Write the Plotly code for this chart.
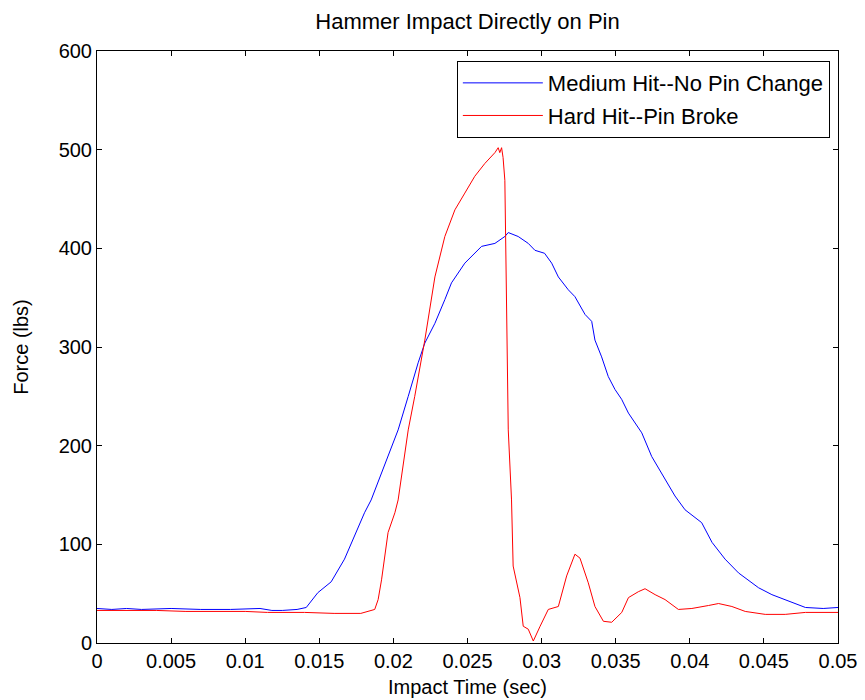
import plotly.graph_objects as go

# Medium hit -- no pin change (blue)
t_medium = [0.0, 0.0010, 0.0020, 0.0030, 0.0050, 0.0070, 0.0090, 0.0110, 0.0118, 0.0125, 0.0135,
            0.01412, 0.0149, 0.0158, 0.0167, 0.01736, 0.01805, 0.0185, 0.02032, 0.0210, 0.02167,
            0.02212, 0.0228, 0.02347, 0.02392, 0.02482, 0.02595, 0.02685, 0.02752, 0.02775, 0.02842,
            0.0291, 0.02955, 0.0302, 0.03068, 0.03113, 0.0318, 0.03225, 0.03293, 0.03338, 0.0336,
            0.03405, 0.0345, 0.03495, 0.0354, 0.03586, 0.03676, 0.03743, 0.03811, 0.0390, 0.03968,
            0.0408, 0.0415, 0.04238, 0.04329, 0.04464, 0.04554, 0.04644, 0.0478, 0.0490, 0.0500]
f_medium = [35, 34, 35, 34, 35, 34, 34, 35, 33, 33, 34,
            36, 51, 62, 85, 108, 132, 145, 216, 250, 284,
            304, 324, 348, 365, 385, 402, 405, 412, 416, 412,
            405, 398, 395, 385, 371, 358, 351, 333, 326, 307,
            290, 270, 257, 247, 233, 213, 189, 172, 149, 135,
            122, 102, 85, 71, 56, 49, 44, 36, 35, 36]

# Hard hit -- pin broke (red)
t_hard = [0.0, 0.0020, 0.0040, 0.0060, 0.0080, 0.0100, 0.0115, 0.0140, 0.0160, 0.0178, 0.01874,
          0.01897, 0.0192, 0.01964, 0.0201, 0.02032, 0.0210, 0.02144, 0.02212, 0.0228, 0.02347,
          0.02415, 0.02482, 0.02549, 0.02617, 0.02685, 0.02707, 0.02718, 0.0273, 0.0274, 0.02752,
          0.02775, 0.02797, 0.02808, 0.02854, 0.02876, 0.0291, 0.02944, 0.0299, 0.03045, 0.03113,
          0.03169, 0.03225, 0.03259, 0.03315, 0.0336, 0.03417, 0.03473, 0.03541, 0.03586, 0.03653,
          0.03698, 0.03766, 0.03833, 0.03923, 0.04014, 0.04126, 0.04194, 0.04284, 0.04374, 0.04509,
          0.04644, 0.0478, 0.0500]
f_hard = [33, 33, 33, 32, 32, 32, 31, 31, 30, 30, 34,
          44, 64, 112, 132, 145, 216, 250, 307, 371, 412,
          439, 456, 473, 486, 497, 502, 497, 502, 492, 469,
          216, 145, 78, 46, 17, 14, 2, 17, 34, 37,
          68, 90, 86, 61, 37, 22, 21, 31, 46, 52,
          55, 49, 44, 34, 35, 38, 40, 37, 32, 29,
          29, 31, 31]

x_ticks = [0, 0.005, 0.01, 0.015, 0.02, 0.025, 0.03, 0.035, 0.04, 0.045, 0.05]
x_tick_text = ["0", "0.005", "0.01", "0.015", "0.02", "0.025", "0.03", "0.035", "0.04", "0.045", "0.05"]
y_ticks = [0, 100, 200, 300, 400, 500, 600]

fig = go.Figure()
fig.add_trace(go.Scatter(x=t_medium, y=f_medium, mode="lines",
                         line=dict(color="#0000ff", width=1),
                         name="Medium Hit--No Pin Change", legendgroup="a"))
fig.add_trace(go.Scatter(x=t_hard, y=f_hard, mode="lines",
                         line=dict(color="#ff0000", width=1),
                         name="Hard Hit--Pin Broke", legendgroup="b"))

font_family = "Liberation Sans, Arial, sans-serif"
fig.update_layout(
    width=865, height=700,
    margin=dict(l=97, r=27, t=51, b=57, autoexpand=False),
    paper_bgcolor="white", plot_bgcolor="white",
    font=dict(family=font_family, color="black", size=20),
    title=dict(text="Hammer Impact Directly on Pin", x=0.5, xref="paper",
               y=1 - 21 / 700, yanchor="middle", font=dict(size=22)),
    showlegend=True,
    legend=dict(x=0.989, y=0.983, xanchor="right", yanchor="top",
                bordercolor="black", borderwidth=1, bgcolor="white",
                font=dict(size=22), tracegroupgap=1, itemwidth=80),
)
fig.update_xaxes(range=[0, 0.05], tickvals=x_ticks, ticktext=x_tick_text,
                 ticks="inside", ticklen=5, tickcolor="black", automargin=False,
                 showline=True, linecolor="black", linewidth=1, mirror="allticks",
                 showgrid=False, zeroline=False,
                 title=dict(text="Impact Time (sec)", font=dict(size=20), standoff=8))
fig.update_yaxes(range=[0, 600], tickvals=y_ticks,
                 ticks="inside", ticklen=5, tickcolor="black", automargin=False,
                 showline=True, linecolor="black", linewidth=1, mirror="allticks",
                 showgrid=False, zeroline=False,
                 title=dict(text="Force (lbs)", font=dict(size=20), standoff=24))

fig.write_html("out.html")
